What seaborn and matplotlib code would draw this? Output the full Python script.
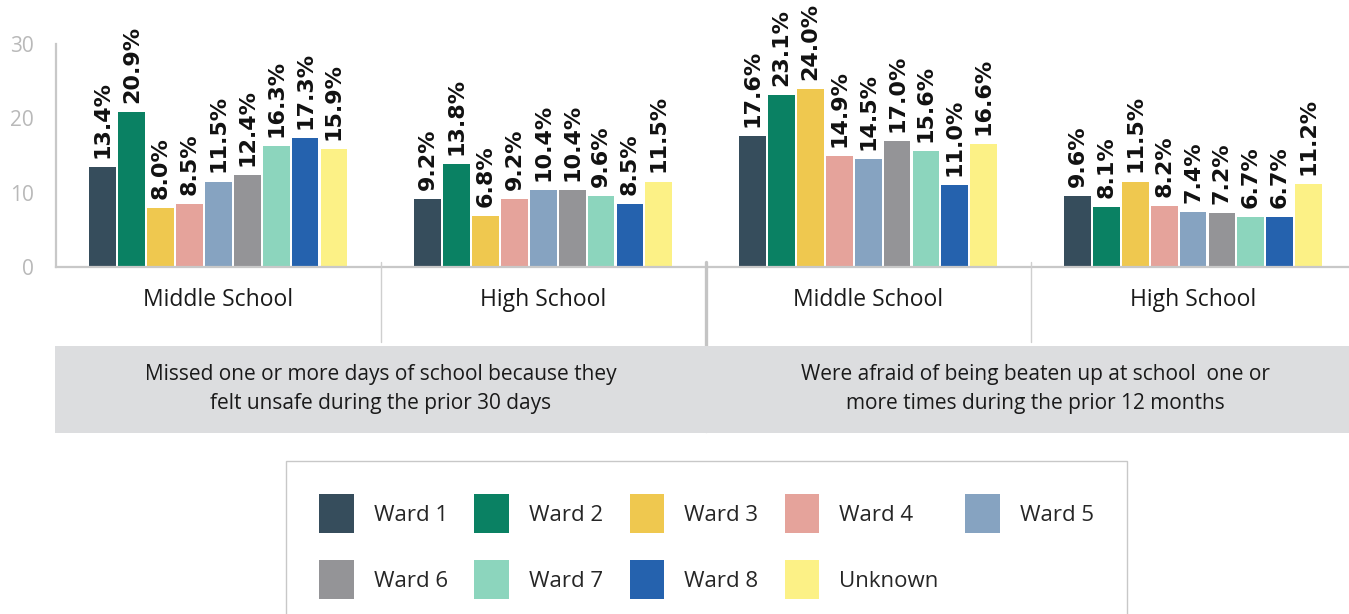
import matplotlib
matplotlib.use("Agg")
import matplotlib.pyplot as plt
from matplotlib.patches import Rectangle, Patch
import seaborn as sns
import pandas as pd

# Survey categories (x groups) and wards (hue)
groups = ["Missed MS", "Missed HS", "Afraid MS", "Afraid HS"]
group_labels = ["Middle School", "High School", "Middle School", "High School"]
wards = ["Ward 1", "Ward 2", "Ward 3", "Ward 4", "Ward 5",
         "Ward 6", "Ward 7", "Ward 8", "Unknown"]

missed_ms = [13.4, 20.9, 8.0, 8.5, 11.5, 12.4, 16.3, 17.3, 15.9]
missed_hs = [9.2, 13.8, 6.8, 9.2, 10.4, 10.4, 9.6, 8.5, 11.5]
afraid_ms = [17.6, 23.1, 24.0, 14.9, 14.5, 17.0, 15.6, 11.0, 16.6]
afraid_hs = [9.6, 8.1, 11.5, 8.2, 7.4, 7.2, 6.7, 6.7, 11.2]

question_labels = [
    "Missed one or more days of school because they\nfelt unsafe during the prior 30 days",
    "Were afraid of being beaten up at school  one or\nmore times during the prior 12 months",
]
y_ticks = [0, 10, 20, 30]

colors = ["#364d5c", "#0a8163", "#efc84f", "#e5a39b", "#86a3c1",
          "#949497", "#8cd5bd", "#2562ae", "#fcf186"]

rows = []
for g, vals in zip(groups, [missed_ms, missed_hs, afraid_ms, afraid_hs]):
    for w, v in zip(wards, vals):
        rows.append({"group": g, "ward": w, "value": v})
df = pd.DataFrame(rows)

sns.set_theme(style="white")
plt.rcParams["font.family"] = ["Open Sans", "DejaVu Sans"]

W, H = 1349, 614
fig = plt.figure(figsize=(W / 100, H / 100), dpi=100)
ax_left, ax_bottom_px, ax_top_px = 56, 267, 44
ax = fig.add_axes([ax_left / W, (H - ax_bottom_px) / H,
                   1 - ax_left / W, (ax_bottom_px - ax_top_px) / H])

sns.barplot(data=df, x="group", y="value", hue="ward", order=groups,
            hue_order=wards, palette=colors, width=0.8, gap=0.07,
            linewidth=0, saturation=1, errorbar=None, legend=False, ax=ax)

# Rotated value labels above each bar
for cont in ax.containers:
    ax.bar_label(cont, fmt="{:.1f}%", rotation=90, padding=6.5,
                 fontsize=16, fontweight="bold", family="DejaVu Sans",
                 color="#111111", clip_on=False)

ax.set_xlim(-0.5, 3.48)
ax.set_ylim(0, 30)
ax.set_yticks(y_ticks)
ax.set_xticks(range(len(groups)))
ax.set_xticklabels(group_labels, fontsize=16.5, color="#1a1a1a")
ax.set_xlabel("")
ax.set_ylabel("")
ax.tick_params(axis="y", direction="in", length=31, width=1.3,
               color="#c8c8c8", pad=16, labelsize=15, labelcolor="#b9b9b9")
ax.tick_params(axis="x", length=0, pad=15)
for s in ["top", "right"]:
    ax.spines[s].set_visible(False)
for s in ["left", "bottom"]:
    ax.spines[s].set_color("#c8c8c8")
    ax.spines[s].set_linewidth(1.6)

# Group dividers below the axis
trans = ax.get_xaxis_transform()
ah = ax_bottom_px - ax_top_px
def frac(py):
    return (ax_bottom_px - py) / ah
for xb in [0.5, 2.5]:
    ax.plot([xb, xb], [frac(262), frac(342)], transform=trans,
            color="#cfcfcf", lw=1.0, clip_on=False, zorder=5)
ax.plot([1.5, 1.5], [frac(262), frac(431)], transform=trans,
        color="#c4c4c4", lw=2.4, clip_on=False, zorder=6)

# Question banner
box_top, box_bot = 346, 433
fig.patches.append(Rectangle((55 / W, (H - box_bot) / H), 1 - 55 / W,
                             (box_bot - box_top) / H, transform=fig.transFigure,
                             facecolor="#dcdddf", edgecolor="none", zorder=0))
fig.text(381 / W, 1 - 389 / H, question_labels[0], ha="center", va="center",
         fontsize=15, color="#1a1a1a", linespacing=1.5)
fig.text(1035 / W, 1 - 389 / H, question_labels[1], ha="center", va="center",
         fontsize=15, color="#1a1a1a", linespacing=1.5)

# Legend: row-major order across 5 columns
handles = [Patch(facecolor=c, edgecolor="none", label=w) for w, c in zip(wards, colors)]
order = [0, 5, 1, 6, 2, 7, 3, 8, 4]
leg = fig.legend([handles[i] for i in order], [wards[i] for i in order],
                 ncol=5, loc="upper center",
                 bbox_to_anchor=(706.5 / W, 1 - 461 / H), borderaxespad=0,
                 fontsize=16, frameon=True, fancybox=False, framealpha=1,
                 edgecolor="#c8c8c8", handlelength=1.55, handleheight=2.33,
                 handletextpad=0.9, columnspacing=1.2, labelspacing=1.2,
                 borderpad=1.5)
leg.get_frame().set_linewidth(1.0)

fig.savefig("out.png", dpi=100)
